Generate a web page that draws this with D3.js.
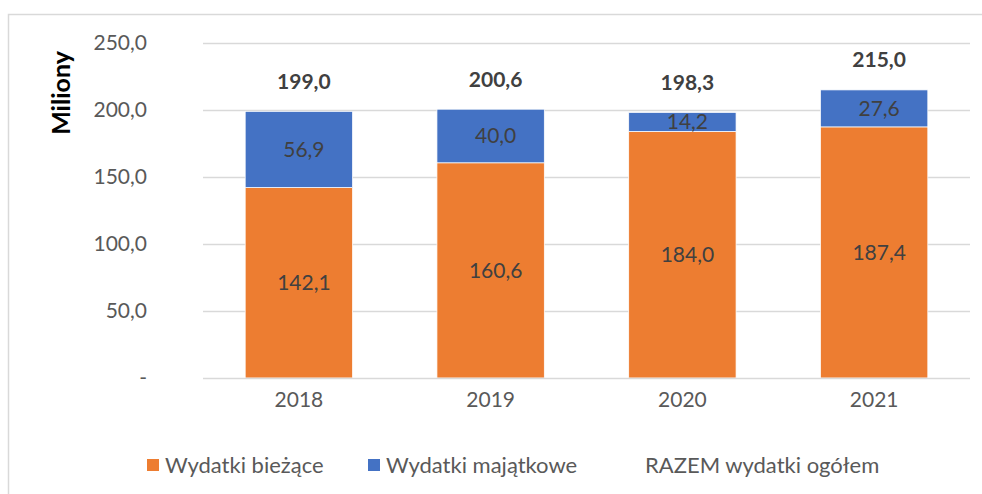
<!DOCTYPE html>
<html><head><meta charset="utf-8">
<script src="https://cdn.jsdelivr.net/npm/d3@7"></script>
<style>
html,body{margin:0;padding:0;background:#fff;}
svg{display:block;font-family:Lato,"Open Sans",sans-serif;}
</style></head>
<body><svg id="chart" width="982" height="494"></svg>
<script>
const years = ["2018","2019","2020","2021"];
const biezace = [142.1,160.6,184.0,187.4];
const majatkowe = [56.9,40.0,14.2,27.6];
const razem = [199.0,200.6,198.3,215.0];
const yTicks = [0,50,100,150,200,250];
const seriesNames = ["Wydatki bieżące","Wydatki majątkowe","RAZEM wydatki ogółem"];
const colors = ["#ED7D31","#4472C4"];

(function(){
const svg = d3.select("#chart");
const pL=203,pR=970,pT=43,pB=378;

svg.append("rect").attr("x",8.5).attr("y",14.5).attr("width",1200).attr("height",1200)
  .attr("fill","none").attr("stroke","#D9D9D9").attr("stroke-width",1.5);

const x = d3.scaleBand().domain(years).range([pL,pR]).paddingInner(0.44).paddingOuter(0.22);
const y = d3.scaleLinear().domain([0,250]).range([pB,pT]);
const fmt = v => v===0 ? "-" : d3.format(".1f")(v).replace(".",",");

svg.append("g").selectAll("line").data(yTicks.filter(t=>t>0)).join("line")
  .attr("x1",pL).attr("x2",pR).attr("y1",d=>Math.round(y(d))+0.5).attr("y2",d=>Math.round(y(d))+0.5)
  .attr("stroke","#D9D9D9").attr("stroke-width",1.5);

const ya = svg.append("g").attr("transform",`translate(${pL},0)`)
  .call(d3.axisLeft(y).tickValues(yTicks).tickFormat(fmt).tickSize(0).tickPadding(56));
ya.select(".domain").remove();
ya.selectAll("text").attr("font-size",21).attr("fill","#595959").attr("font-family","Lato");

const stackData = years.map((yr,i)=>({yr, b:biezace[i], m:majatkowe[i], t:razem[i]}));
const g = svg.append("g");
g.selectAll(".b").data(stackData).join("rect")
  .attr("x",d=>x(d.yr)).attr("width",x.bandwidth())
  .attr("y",d=>y(d.b)).attr("height",d=>y(0)-y(d.b))
  .attr("fill",colors[0]).attr("stroke","#fff").attr("stroke-width",0.75);
g.selectAll(".m").data(stackData).join("rect")
  .attr("x",d=>x(d.yr)).attr("width",x.bandwidth())
  .attr("y",d=>y(d.b+d.m)).attr("height",d=>y(d.b)-y(d.b+d.m))
  .attr("fill",colors[1]).attr("stroke","#fff").attr("stroke-width",0.75);

svg.append("line").attr("x1",pL).attr("x2",pR).attr("y1",pB+0.5).attr("y2",pB+0.5)
  .attr("stroke","#D9D9D9").attr("stroke-width",1.5);
const xa = svg.append("g").attr("transform",`translate(0,${pB})`)
  .call(d3.axisBottom(x).tickSize(0).tickPadding(14));
xa.select(".domain").remove();
xa.selectAll("text").attr("font-size",21).attr("fill","#595959").attr("font-family","Lato");

const off = 5;
g.selectAll(".lb").data(stackData).join("text")
  .attr("x",d=>x(d.yr)+x.bandwidth()/2+off).attr("y",d=>(y(0)+y(d.b))/2)
  .attr("dy","0.35em").attr("text-anchor","middle").attr("font-size",21).attr("fill","#404040")
  .text(d=>fmt(d.b));
g.selectAll(".lm").data(stackData).join("text")
  .attr("x",d=>x(d.yr)+x.bandwidth()/2+off).attr("y",d=>(y(d.b)+y(d.b+d.m))/2)
  .attr("dy","0.35em").attr("text-anchor","middle").attr("font-size",21).attr("fill","#404040")
  .text(d=>fmt(d.m));
g.selectAll(".lt").data(stackData).join("text")
  .attr("x",d=>x(d.yr)+x.bandwidth()/2+off).attr("y",d=>y(d.t)-30)
  .attr("dy","0.35em").attr("text-anchor","middle").attr("font-size",21).attr("font-weight","bold").attr("fill","#404040")
  .text(d=>fmt(d.t));

svg.append("text").attr("transform","translate(70,93) rotate(-90)")
  .attr("text-anchor","middle").attr("font-size",25).attr("font-weight","bold").attr("fill","#000")
  .text("Miliony");

const leg = svg.append("g");
const legItems = [{x:147,c:colors[0],t:seriesNames[0]},{x:368,c:colors[1],t:seriesNames[1]},{x:627,c:null,t:seriesNames[2]}];
legItems.forEach(it=>{
  if(it.c) leg.append("rect").attr("x",it.x).attr("y",459).attr("width",12).attr("height",12).attr("fill",it.c);
  leg.append("text").attr("x",it.x+18).attr("y",465).attr("dy","0.35em").attr("font-size",22).attr("fill","#595959").text(it.t);
});
})();
</script></body></html>
